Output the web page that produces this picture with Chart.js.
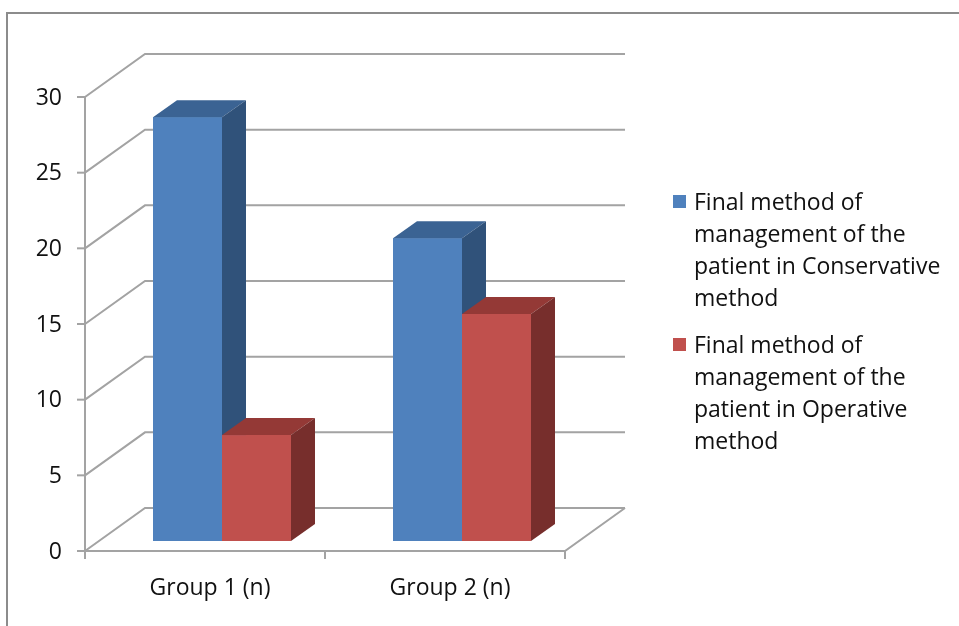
<!DOCTYPE html>
<html>
<head>
<meta charset="utf-8">
<script src="https://cdn.jsdelivr.net/npm/chart.js"></script>
<style>
  body { margin: 0; background: #fff; }
  #wrap { position: relative; width: 959px; height: 626px; overflow: hidden; }
  #frame { position: absolute; left: 6px; top: 12px; width: 1000px; height: 700px;
           border-left: 2px solid #8c8c8c; border-top: 2px solid #8c8c8c; }
  #myChart { position: absolute; left: 0; top: 0; }
  #legend { position: absolute; left: 673px; top: 185px; width: 285px;
            font-family: "Open Sans", sans-serif; font-size: 23px; line-height: 32px; color: #111; }
  .item { position: relative; padding-left: 21px; margin-bottom: 15px; width: 262px; }
  .box { position: absolute; left: 0; top: 10px; width: 13px; height: 13px; }
</style>
</head>
<body>
<div id="wrap">
  <div id="frame"></div>
  <canvas id="myChart" width="959" height="626"></canvas>
  <div id="legend"></div>
</div>
<script>
    const categories = ['Group 1 (n)', 'Group 2 (n)'];
    const conservative = [28, 20];
    const operative = [7, 15];
    const seriesNames = [
        'Final method of management of the patient in Conservative method',
        'Final method of management of the patient in Operative method'
    ];
    const yTicks = [0, 5, 10, 15, 20, 25, 30];

    // face colours: front, top, side
    const blue = ['#4f81bd', '#3b6393', '#30527a'];
    const red = ['#c0504d', '#943936', '#772e2c'];

    // offsets from the bar plane
    const FRONT = {dx: -17, dy: 10};
    const BACK = {dx: 43, dy: -33};
    const DEPTH = {dx: 24, dy: -17};

    const box3d = {
        id: 'box3d',
        beforeDatasetsDraw(chart) {
            const ctx = chart.ctx;
            const a = chart.chartArea;
            const y = chart.scales.y;
            ctx.save();
            ctx.strokeStyle = '#a3a3a3';
            ctx.lineWidth = 2;
            // back wall + left wall
            yTicks.forEach(t => {
                const py = y.getPixelForValue(t);
                ctx.beginPath();
                ctx.moveTo(a.left + FRONT.dx, py + FRONT.dy);
                ctx.lineTo(a.left + BACK.dx, py + BACK.dy);
                ctx.lineTo(a.right + BACK.dx, py + BACK.dy);
                ctx.stroke();
            });
            // floor
            const p0 = y.getPixelForValue(0);
            ctx.beginPath();
            ctx.moveTo(a.left + FRONT.dx, p0 + FRONT.dy);
            ctx.lineTo(a.right + FRONT.dx, p0 + FRONT.dy);
            ctx.lineTo(a.right + BACK.dx, p0 + BACK.dy);
            ctx.stroke();
            // front value axis
            const top = y.getPixelForValue(yTicks[yTicks.length - 1]);
            ctx.beginPath();
            ctx.moveTo(a.left + FRONT.dx, top + FRONT.dy);
            ctx.lineTo(a.left + FRONT.dx, p0 + FRONT.dy);
            ctx.stroke();
            ctx.fillStyle = '#111';
            ctx.font = '23px "Open Sans"';
            ctx.textAlign = 'right';
            ctx.textBaseline = 'middle';
            yTicks.forEach(t => {
                const py = y.getPixelForValue(t) + FRONT.dy;
                ctx.beginPath();
                ctx.moveTo(a.left + FRONT.dx - 8, py);
                ctx.lineTo(a.left + FRONT.dx, py);
                ctx.stroke();
                ctx.fillText(String(t), a.left + FRONT.dx - 23, py + 1);
            });
            // category axis ticks and labels
            const x = chart.scales.x;
            const step = (a.right - a.left) / categories.length;
            for (let i = 0; i <= categories.length; i++) {
                const px = a.left + FRONT.dx + step * i;
                ctx.beginPath();
                ctx.moveTo(px, p0 + FRONT.dy);
                ctx.lineTo(px, p0 + FRONT.dy + 8);
                ctx.stroke();
            }
            ctx.textAlign = 'center';
            ctx.font = '23px "Open Sans"';
            categories.forEach((c, i) => {
                ctx.fillText(c, x.getPixelForValue(i) + FRONT.dx + 5, p0 + FRONT.dy + 37);
            });
            ctx.restore();
        },
        afterDatasetsDraw(chart) {
            // repaint all faces in series order so later bars cover earlier sides
            const ctx = chart.ctx;
            ctx.save();
            chart.data.datasets.forEach((ds, di) => {
                const cols = di === 0 ? blue : red;
                chart.getDatasetMeta(di).data.forEach(bar => {
                    const l = bar.x - bar.width / 2, r = bar.x + bar.width / 2;
                    const t = bar.y, b = bar.base;
                    ctx.fillStyle = cols[0];
                    ctx.fillRect(l, t, r - l, b - t);
                    ctx.fillStyle = cols[1];
                    ctx.beginPath();
                    ctx.moveTo(l, t);
                    ctx.lineTo(l + DEPTH.dx, t + DEPTH.dy);
                    ctx.lineTo(r + DEPTH.dx, t + DEPTH.dy);
                    ctx.lineTo(r, t);
                    ctx.closePath();
                    ctx.fill();
                    ctx.fillStyle = cols[2];
                    ctx.beginPath();
                    ctx.moveTo(r, t);
                    ctx.lineTo(r + DEPTH.dx, t + DEPTH.dy);
                    ctx.lineTo(r + DEPTH.dx, b + DEPTH.dy);
                    ctx.lineTo(r, b);
                    ctx.closePath();
                    ctx.fill();
                });
            });
            ctx.restore();
        }
    };

    const ctx = document.getElementById('myChart');
    const myChart = new Chart(ctx, {
        type: 'bar',
        data: {
            labels: categories,
            datasets: [
                {label: seriesNames[0], data: conservative, backgroundColor: blue[0]},
                {label: seriesNames[1], data: operative, backgroundColor: red[0]}
            ]
        },
        options: {
            responsive: false,
            animation: false,
            layout: {padding: {left: 102, right: 377, top: 87, bottom: 85}},
            datasets: {bar: {categoryPercentage: 0.575, barPercentage: 1}},
            scales: {
                x: {display: false},
                y: {display: false, min: 0, max: 30}
            },
            plugins: {legend: {display: false}, tooltip: {enabled: false}}
        },
        plugins: [box3d]
    });

    // legend with wrapped text
    const legend = document.getElementById('legend');
    myChart.data.datasets.forEach(ds => {
        const item = document.createElement('div');
        item.className = 'item';
        item.innerHTML = '<span class="box" style="background:' + ds.backgroundColor + '"></span>' + ds.label;
        legend.appendChild(item);
    });
</script>
</body>
</html>
